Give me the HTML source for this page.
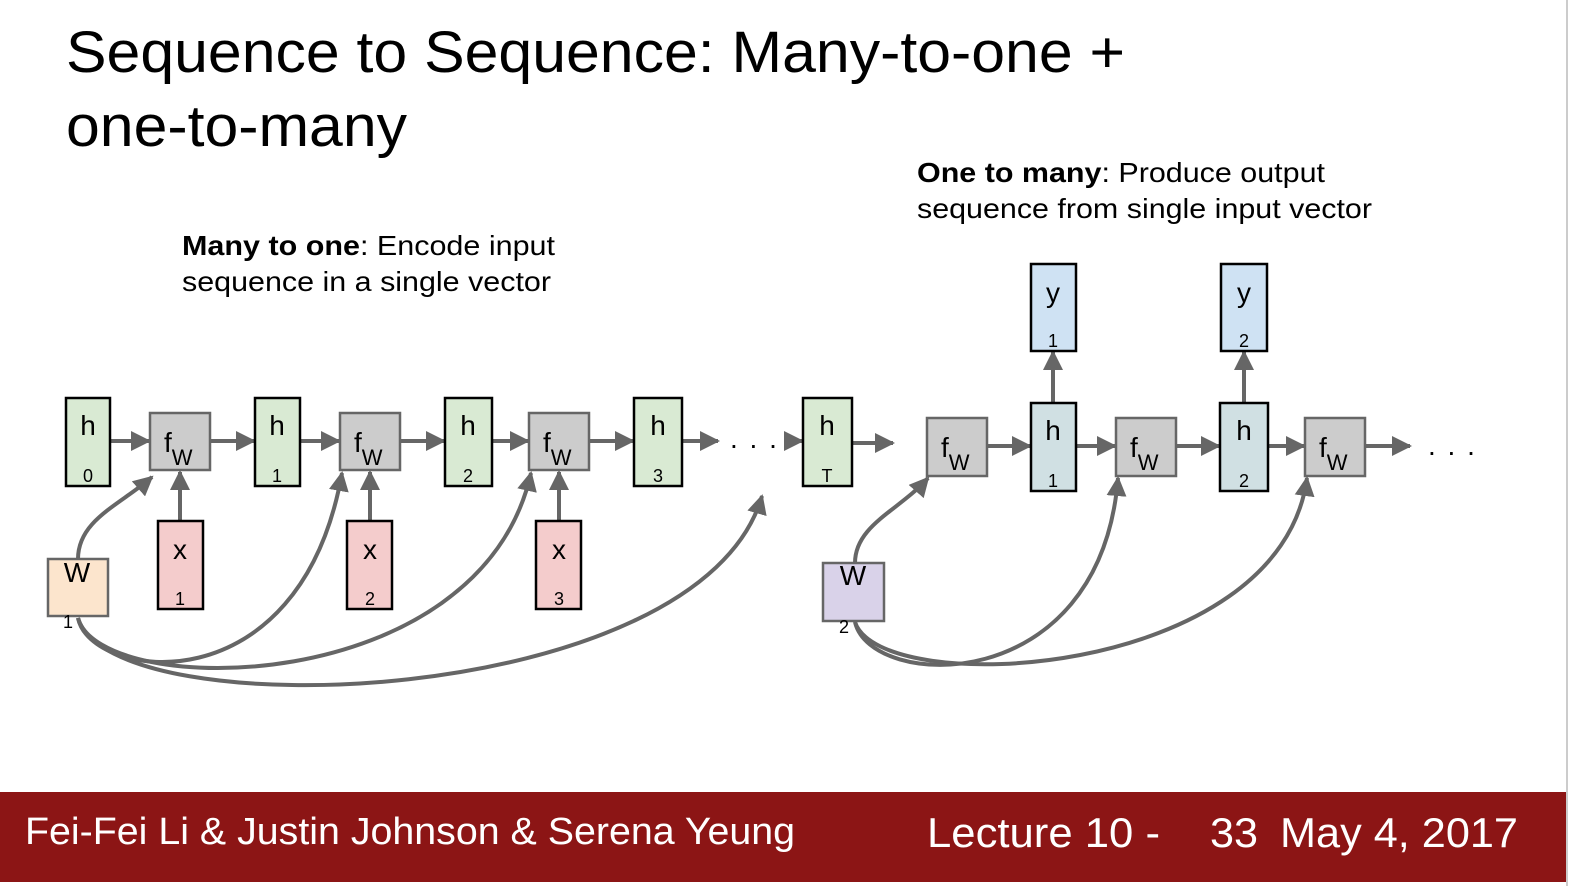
<!DOCTYPE html>
<html><head><meta charset="utf-8"><style>
body{margin:0;width:1575px;height:886px;overflow:hidden;background:#fff;font-family:"Liberation Sans",Arial,sans-serif}
</style></head><body>
<svg width="1575" height="886" viewBox="0 0 1575 886" xmlns="http://www.w3.org/2000/svg" font-family="Liberation Sans, Arial, sans-serif">
<defs>
<marker id="a" viewBox="0 0 10 10" refX="9" refY="5" markerWidth="5" markerHeight="5" orient="auto" markerUnits="strokeWidth"><path d="M0,0 L10,5 L0,10 z" fill="#666"/></marker>
</defs>
<text x="66" y="72" font-size="58" fill="#000" textLength="1059" lengthAdjust="spacingAndGlyphs">Sequence to Sequence: Many-to-one +</text>
<text x="66" y="146" font-size="58" fill="#000" textLength="341" lengthAdjust="spacingAndGlyphs">one-to-many</text>
<text x="182" y="255" font-size="28" textLength="373" lengthAdjust="spacingAndGlyphs"><tspan font-weight="bold">Many to one</tspan>: Encode input</text>
<text x="182" y="291" font-size="28" textLength="369" lengthAdjust="spacingAndGlyphs">sequence in a single vector</text>
<text x="917" y="182" font-size="28" textLength="408" lengthAdjust="spacingAndGlyphs"><tspan font-weight="bold">One to many</tspan>: Produce output</text>
<text x="917" y="218" font-size="28" textLength="455" lengthAdjust="spacingAndGlyphs">sequence from single input vector</text>

<g stroke="#666" stroke-width="4" fill="none" marker-end="url(#a)">
<line x1="110" y1="441" x2="149" y2="441"/>
<line x1="210" y1="441" x2="254" y2="441"/>
<line x1="300" y1="441" x2="339" y2="441"/>
<line x1="400" y1="441" x2="444" y2="441"/>
<line x1="492" y1="441" x2="528" y2="441"/>
<line x1="589" y1="441" x2="633" y2="441"/>
<line x1="682" y1="441" x2="718" y2="441"/>
<line x1="784" y1="441" x2="802" y2="441"/>
<line x1="852" y1="443" x2="893" y2="443"/>
<line x1="180" y1="521" x2="180" y2="472"/>
<line x1="370" y1="521" x2="370" y2="472"/>
<line x1="559" y1="521" x2="559" y2="472"/>
<line x1="987" y1="446" x2="1030" y2="446"/>
<line x1="1076" y1="446" x2="1115" y2="446"/>
<line x1="1176" y1="446" x2="1219" y2="446"/>
<line x1="1268" y1="446" x2="1304" y2="446"/>
<line x1="1365" y1="446" x2="1410" y2="446"/>
<line x1="1053" y1="403" x2="1053" y2="352"/>
<line x1="1244" y1="403" x2="1244" y2="352"/>
<path d="M78,559 C78,520 120,505 152,477"/>
<path d="M78,618 C90,680 300,710 342,473"/>
<path d="M78,618 C100,700 480,700 531,473"/>
<path d="M78,618 C110,730 700,710 762,496"/>
<path d="M855,563 C855,525 900,510 928,478"/>
<path d="M855,622 C870,690 1100,700 1118,478"/>
<path d="M855,622 C880,700 1280,680 1307,478"/>
</g>
<text x="730" y="448" font-size="28" letter-spacing="2">. . .</text>
<text x="1428" y="455" font-size="28" letter-spacing="2">. . .</text>

<g font-size="28" text-anchor="middle">
<g stroke="#000" stroke-width="2.5" fill="#d9ead3">
<rect x="66" y="398" width="44" height="88"/><rect x="255" y="398" width="45" height="88"/>
<rect x="445" y="398" width="47" height="88"/><rect x="634" y="398" width="48" height="88"/>
<rect x="803" y="398" width="49" height="88"/>
</g>
<g stroke="#000" stroke-width="2.5" fill="#d0e0e3">
<rect x="1031" y="403" width="45" height="88"/><rect x="1220" y="403" width="48" height="88"/>
</g>
<g stroke="#000" stroke-width="2.5" fill="#cfe2f3">
<rect x="1031" y="264" width="45" height="87"/><rect x="1221" y="264" width="46" height="87"/>
</g>
<g stroke="#000" stroke-width="2.5" fill="#f4cccc">
<rect x="158" y="521" width="45" height="88"/><rect x="347" y="521" width="45" height="88"/><rect x="536" y="521" width="45" height="88"/>
</g>
<g stroke="#666" stroke-width="2.5" fill="#cccccc">
<rect x="150" y="413" width="60" height="57"/><rect x="340" y="413" width="60" height="57"/><rect x="529" y="413" width="60" height="57"/>
<rect x="927" y="418" width="60" height="58"/><rect x="1116" y="418" width="60" height="58"/><rect x="1305" y="418" width="60" height="58"/>
</g>
<rect x="48" y="559" width="60" height="57" fill="#fce5cd" stroke="#666" stroke-width="2.5"/>
<rect x="823" y="563" width="61" height="58" fill="#d9d2e9" stroke="#666" stroke-width="2.5"/>

<text x="88" y="435">h</text><text x="88" y="482" font-size="18">0</text>
<text x="277" y="435">h</text><text x="277" y="482" font-size="18">1</text>
<text x="468" y="435">h</text><text x="468" y="482" font-size="18">2</text>
<text x="658" y="435">h</text><text x="658" y="482" font-size="18">3</text>
<text x="827" y="435">h</text><text x="827" y="482" font-size="18">T</text>
<text x="1053" y="440">h</text><text x="1053" y="487" font-size="18">1</text>
<text x="1244" y="440">h</text><text x="1244" y="487" font-size="18">2</text>
<text x="1053" y="302">y</text><text x="1053" y="347" font-size="18">1</text>
<text x="1244" y="302">y</text><text x="1244" y="347" font-size="18">2</text>
<text x="180" y="559">x</text><text x="180" y="605" font-size="18">1</text>
<text x="370" y="559">x</text><text x="370" y="605" font-size="18">2</text>
<text x="559" y="559">x</text><text x="559" y="605" font-size="18">3</text>
<text x="77" y="582">W</text><text x="68" y="628" font-size="18">1</text>
<text x="853" y="585">W</text><text x="844" y="633" font-size="18">2</text>
</g>
<g font-size="28">
<text x="164" y="452">f<tspan font-size="22" dy="13">W</tspan></text>
<text x="354" y="452">f<tspan font-size="22" dy="13">W</tspan></text>
<text x="543" y="452">f<tspan font-size="22" dy="13">W</tspan></text>
<text x="941" y="457">f<tspan font-size="22" dy="13">W</tspan></text>
<text x="1130" y="457">f<tspan font-size="22" dy="13">W</tspan></text>
<text x="1319" y="457">f<tspan font-size="22" dy="13">W</tspan></text>
</g>

<rect x="0" y="792" width="1566" height="90" fill="#8c1515"/>
<line x1="1567" y1="0" x2="1567" y2="886" stroke="#ccc" stroke-width="2"/>
<text x="25" y="844" font-size="38" fill="#fff" textLength="770" lengthAdjust="spacingAndGlyphs">Fei-Fei Li &amp; Justin Johnson &amp; Serena Yeung</text>
<text x="927" y="847" font-size="42" fill="#fff" textLength="233" lengthAdjust="spacingAndGlyphs">Lecture 10 -</text>
<text x="1210" y="847" font-size="42" fill="#fff" textLength="48" lengthAdjust="spacingAndGlyphs">33</text>
<text x="1280" y="847" font-size="42" fill="#fff" textLength="238" lengthAdjust="spacingAndGlyphs">May 4, 2017</text>
</svg>
</body></html>
